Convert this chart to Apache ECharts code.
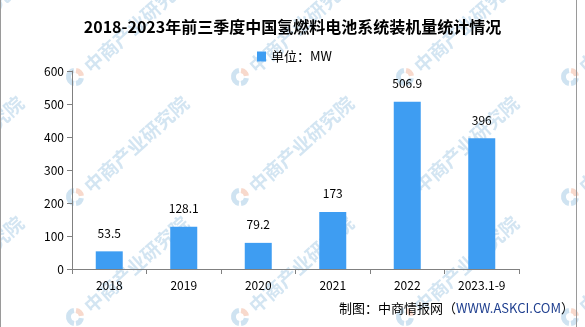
<!DOCTYPE html>
<html>
<head>
<meta charset="utf-8">
<script src="https://cdn.jsdelivr.net/npm/echarts@6/dist/echarts.min.js"></script>
<style>
html,body{margin:0;padding:0;background:#fff;}
#chart{width:585px;height:327px;}
</style>
</head>
<body>
<div id="chart"></div>
<script>
// Installed fuel-cell system capacity, MW
const categories = ['2018', '2019', '2020', '2021', '2022', '2023.1-9'];
const capacity = [53.5, 128.1, 79.2, 173, 506.9, 396];
const yTicks = [0, 100, 200, 300, 400, 500, 600];

const titleText = '2018-2023年前三季度中国氢燃料电池系统装机量统计情况';
const legendName = '单位：MW';
const watermarkText = '中商产业研究院';

const FONT = '"Noto Sans CJK SC", "Noto Sans", sans-serif';
const BAR = '#3e9df2';

// faint brand watermark tiles behind the plot
function watermarkTiles() {
  const out = [];
  const xs = [-90, 75, 240, 405, 570];
  const ys = [-43, 77, 197, 317];
  xs.forEach(cx => ys.forEach(cy => {
    out.push({
      type: 'group', x: cx, y: cy, z: -10, silent: true,
      children: [
        { type: 'sector', shape: { cx: 0, cy: 0, r: 9, r0: 4, startAngle: Math.PI * 0.55, endAngle: Math.PI * 1.45 },
          style: { fill: '#cfe3f1' } },
        { type: 'sector', shape: { cx: 0, cy: 0, r: 9, r0: 4, startAngle: Math.PI * 1.55, endAngle: Math.PI * 1.95 },
          style: { fill: '#f8d9cc' } },
        { type: 'sector', shape: { cx: 0, cy: 0, r: 9, r0: 4, startAngle: Math.PI * 0.05, endAngle: Math.PI * 0.45 },
          style: { fill: '#cfe3f1' } },
        { type: 'text', x: 12, y: -8, rotation: Math.PI * 42 / 180,
          style: { text: watermarkText, fill: '#d3e5f2', font: 'bold 19px ' + FONT,
                   align: 'left', verticalAlign: 'middle' } }
      ]
    });
  }));
  return out;
}

const chart = echarts.init(document.getElementById('chart'), null, { renderer: 'canvas' });
chart.setOption({
  animation: false,
  backgroundColor: '#ffffff',
  title: {
    text: titleText, left: 'center', top: 14,
    textStyle: { fontFamily: FONT, fontSize: 16, fontWeight: 'bold', color: '#000' }
  },
  legend: {
    data: [legendName], left: 252, top: 45,
    itemWidth: 9, itemHeight: 10, itemGap: 5,
    icon: 'rect',
    textStyle: { fontFamily: FONT, fontSize: 13, color: '#000' }
  },
  grid: { left: 72, right: 66, top: 71, bottom: 58, containLabel: false },
  xAxis: {
    type: 'category', data: categories,
    axisLine: { lineStyle: { color: '#808080', width: 1 } },
    axisTick: { show: true, length: 5, lineStyle: { color: '#808080' } },
    axisLabel: { color: '#000', fontFamily: FONT, fontSize: 12, margin: 10 }
  },
  yAxis: {
    type: 'value', min: yTicks[0], max: yTicks[yTicks.length - 1], interval: 100,
    axisLine: { show: true, lineStyle: { color: '#808080', width: 1 } },
    axisTick: { show: true, length: 5, lineStyle: { color: '#808080' } },
    axisLabel: { color: '#000', fontFamily: FONT, fontSize: 12, margin: 8 },
    splitLine: { show: false }
  },
  series: [{
    name: legendName, type: 'bar', data: capacity, barWidth: 27,
    itemStyle: { color: BAR },
    label: { show: true, position: 'top', distance: 12, color: '#000', fontFamily: FONT, fontSize: 12 }
  }],
  graphic: watermarkTiles().concat([
    { type: 'line', z: 5, shape: { x1: 0.5, y1: 0, x2: 0.5, y2: 327 }, style: { stroke: '#9a9a9a', lineWidth: 1 } },
    { type: 'line', z: 5, shape: { x1: 576.5, y1: 0, x2: 576.5, y2: 327 }, style: { stroke: '#9a9a9a', lineWidth: 1 } },
    { type: 'text', z: 5, x: 574, y: 308,
      style: {
        text: '{a|制图：中商情报网（}{b|WWW.ASKCI.COM}{a|）}',
        align: 'right', verticalAlign: 'middle',
        rich: {
          a: { fontFamily: FONT, fontSize: 13, fill: '#000', color: '#000' },
          b: { fontFamily: FONT, fontSize: 13, fill: '#1f3f8f', color: '#1f3f8f' }
        }
      } }
  ])
});
</script>
</body>
</html>
